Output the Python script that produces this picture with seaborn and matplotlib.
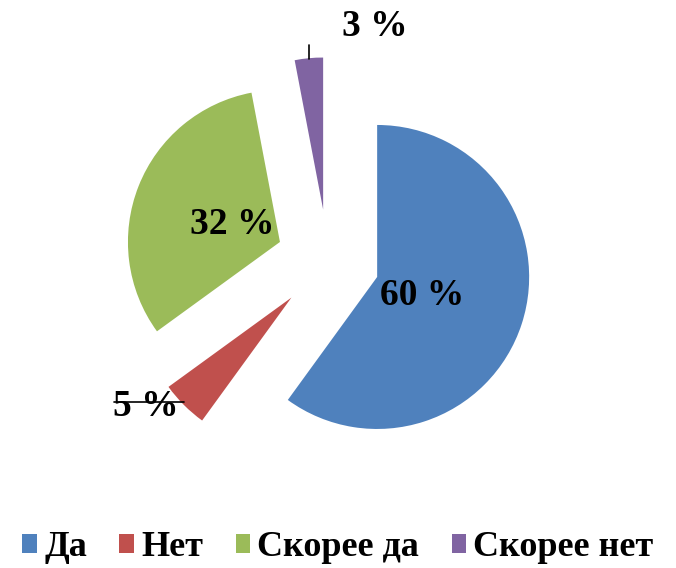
import matplotlib
matplotlib.use("Agg")
import matplotlib.pyplot as plt
import seaborn as sns

# data
categories = ["Да", "Нет", "Скорее да", "Скорее нет"]
shares = [60, 5, 32, 3]
pct_labels = ["60 %", "5 %", "32 %", "3 %"]
colors = ["#4F81BD", "#C0504D", "#9BBB59", "#8064A2"]

sns.set_theme(style="white")
plt.rcParams["font.family"] = ["Liberation Serif", "DejaVu Serif"]
plt.rcParams["text.color"] = "black"

fig = plt.figure(figsize=(6.76, 5.68), dpi=100)
ax = fig.add_axes([0, 0, 1, 1])

palette = sns.color_palette(colors)
wedges, _ = ax.pie(
    shares,
    colors=palette,
    startangle=90,
    counterclock=False,
    explode=[0.34] * len(shares),
    radius=1.0,
    wedgeprops={"linewidth": 0},
)

# 1 data unit = 152 px, pie centre at (328, 261) px from top-left
ax.set_xlim(-328 / 152, (676 - 328) / 152)
ax.set_ylim(-(568 - 261) / 152, 261 / 152)
ax.set_aspect("equal")
ax.axis("off")

label_pos = [(0.62, -0.23), (-1.20, -0.96), (-0.63, 0.24), (0.31, 1.54)]
for txt, (x, y) in zip(pct_labels, label_pos):
    ax.text(x, y, txt, ha="center", va="center", fontsize=27,
            fontweight="bold", color="black")

# leader lines for the small slices
ax.plot([-0.125, -0.125], [1.33, 1.42], color="black", lw=1.2)
ax.plot([-1.41, -0.95], [-0.93, -0.93], color="black", lw=1.2)

fig.legend(
    wedges, categories,
    loc="center", bbox_to_anchor=(0.5, 20 / 568),
    ncol=4, frameon=False,
    prop={"size": 26, "weight": "bold"},
    labelcolor="black",
    handlelength=0.4, handleheight=0.4, handletextpad=0.2,
    columnspacing=0.9,
)

fig.savefig("out.png", dpi=100)
